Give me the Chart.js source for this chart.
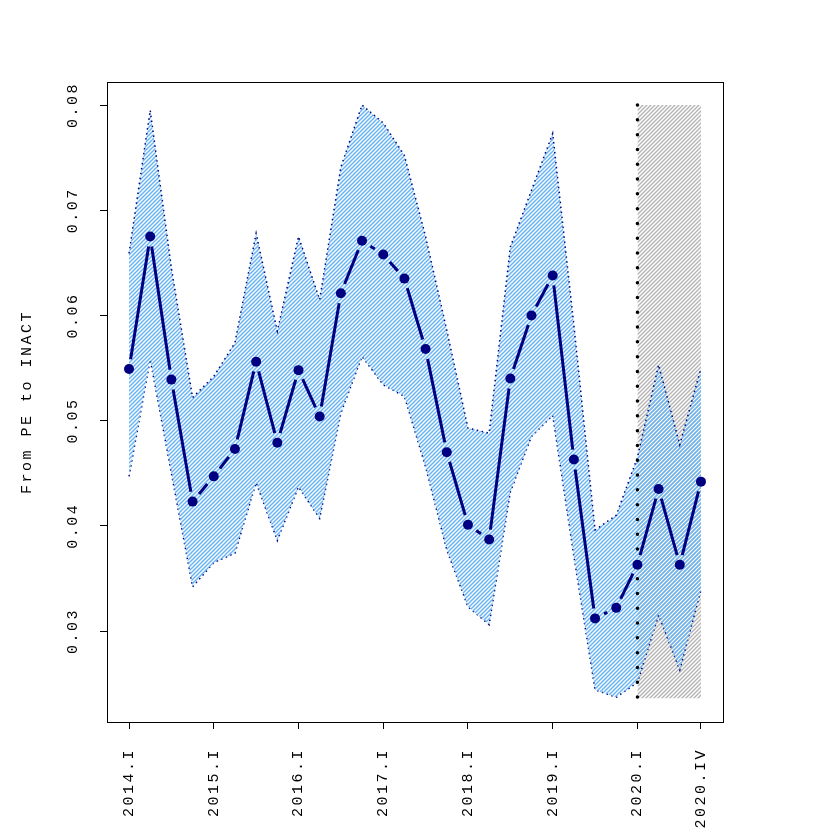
<!DOCTYPE html>
<html lang="en">
<head>
    <meta charset="UTF-8">
    <title>From PE to INACT</title>
    <script src="https://cdn.jsdelivr.net/npm/chart.js@4.4.1/dist/chart.umd.min.js"></script>
    <style>
        body { margin: 0; background: #fff; }
    </style>
</head>
<body>

<canvas id="flow-chart" width="830" height="830"></canvas>

<script>

    const years = [2014, 2015, 2016, 2017, 2018, 2019, 2020];
    const romans = ['I', 'II', 'III', 'IV'];
    const quarters = years.flatMap(y => romans.map(r => y + '.' + r));

    const estimate = [0.0549, 0.0675, 0.0539, 0.0423, 0.0447, 0.0473, 0.0556, 0.0479,
                      0.0548, 0.0504, 0.0621, 0.0671, 0.0658, 0.0635, 0.0568, 0.0470,
                      0.0401, 0.0387, 0.0540, 0.0600, 0.0638, 0.0463, 0.0312, 0.0322,
                      0.0363, 0.0435, 0.0363, 0.0442];
    const upper = [0.0659, 0.0795, 0.0645, 0.0522, 0.0542, 0.0574, 0.0678, 0.0585,
                   0.0675, 0.0615, 0.0741, 0.0800, 0.0783, 0.0752, 0.0675, 0.0586,
                   0.0493, 0.0488, 0.0665, 0.0719, 0.0773, 0.0591, 0.0396, 0.0410,
                   0.0465, 0.0553, 0.0477, 0.0550];
    const lower = [0.0447, 0.0558, 0.0450, 0.0342, 0.0365, 0.0374, 0.0441, 0.0386,
                   0.0437, 0.0407, 0.0507, 0.0561, 0.0534, 0.0523, 0.0456, 0.0377,
                   0.0323, 0.0306, 0.0432, 0.0485, 0.0505, 0.0371, 0.0244, 0.0237,
                   0.0251, 0.0315, 0.0263, 0.0339];

    const xTickLabels = ['2014.I', '2015.I', '2016.I', '2017.I', '2018.I', '2019.I', '2020.I', '2020.IV'];
    const yTicks = [0.03, 0.04, 0.05, 0.06, 0.07, 0.08];

    // forecast window shading
    const forecastFrom = '2020.I';
    const forecastTo = '2020.IV';
    const shadeTop = 0.08;
    const shadeBottom = 0.0236;

    const navy = '#000080';
    const font = '"Liberation Mono", "DejaVu Sans Mono", monospace';

    function hatch(color, size, width) {
        const c = document.createElement('canvas');
        c.width = c.height = size;
        const g = c.getContext('2d');
        g.strokeStyle = color;
        g.lineWidth = width;
        g.beginPath();
        g.moveTo(0, size); g.lineTo(size, 0);
        g.moveTo(-1, 1); g.lineTo(1, -1);
        g.moveTo(size - 1, size + 1); g.lineTo(size + 1, size - 1);
        g.stroke();
        return g.createPattern(c, 'repeat');
    }

    const toXY = arr => arr.map((v, i) => ({x: i, y: v}));
    const fromIdx = quarters.indexOf(forecastFrom);
    const toIdx = quarters.indexOf(forecastTo);

    // lines with gaps around points, like R type="b"
    const gappedLine = {
        id: 'gappedLine',
        afterDatasetDraw(chart, args) {
            if (chart.data.datasets[args.index].label !== 'Estimate') return;
            const pts = args.meta.data, ctx = chart.ctx, gap = 10;
            ctx.save();
            ctx.strokeStyle = navy;
            ctx.lineWidth = 3;
            ctx.beginPath();
            for (let i = 0; i < pts.length - 1; i++) {
                const a = pts[i], b = pts[i + 1];
                const dx = b.x - a.x, dy = b.y - a.y, d = Math.hypot(dx, dy);
                if (d <= 2 * gap) continue;
                const ux = dx / d, uy = dy / d;
                ctx.moveTo(a.x + ux * gap, a.y + uy * gap);
                ctx.lineTo(b.x - ux * gap, b.y - uy * gap);
            }
            ctx.stroke();
            ctx.restore();
        }
    };

    const rFrame = {
        id: 'rFrame',
        beforeDraw(chart) {
            chart.ctx.letterSpacing = '2.5px';
        },
        afterDraw(chart) {
            const ctx = chart.ctx, area = chart.chartArea, y = chart.scales.y;
            ctx.save();
            ctx.strokeStyle = '#000';
            ctx.lineWidth = 1;
            ctx.strokeRect(area.left + 0.5, area.top + 0.5, area.right - area.left, area.bottom - area.top);
            ctx.font = '15px ' + font;
            ctx.fillStyle = '#000';
            ctx.textAlign = 'center';
            ctx.textBaseline = 'middle';
            yTicks.forEach(v => {
                ctx.save();
                ctx.translate(area.left - 34, y.getPixelForValue(v));
                ctx.rotate(-Math.PI / 2);
                ctx.fillText(v.toFixed(2), 0, 0);
                ctx.restore();
            });
            ctx.restore();
        }
    };

    const data = {
        datasets: [
            {
                label: 'Estimate',
                data: toXY(estimate),
                showLine: false,
                pointRadius: 5,
                pointBackgroundColor: navy,
                pointBorderWidth: 0,
                order: 1
            },
            {
                label: 'Forecast start',
                data: [{x: fromIdx, y: shadeTop}, {x: fromIdx, y: shadeBottom}],
                borderColor: '#000',
                borderWidth: 3.5,
                borderDash: [0, 14.8],
                borderCapStyle: 'round',
                pointRadius: 0,
                order: 2
            },
            {
                label: 'Upper',
                data: toXY(upper),
                borderColor: navy,
                borderWidth: 1.5,
                borderDash: [1.5, 3.5],
                backgroundColor: hatch('#68B5F4', 4, 1.5),
                fill: '+1',
                pointRadius: 0,
                tension: 0,
                order: 3
            },
            {
                label: 'Lower',
                data: toXY(lower),
                borderColor: navy,
                borderWidth: 1.5,
                borderDash: [1.5, 3.5],
                pointRadius: 0,
                tension: 0,
                order: 3
            },
            {
                label: 'Forecast',
                data: [{x: fromIdx, y: shadeTop}, {x: toIdx, y: shadeTop}],
                borderWidth: 0,
                backgroundColor: hatch('#B4B4B4', 4, 1.4),
                fill: {value: shadeBottom},
                pointRadius: 0,
                order: 5
            }
        ]
    };

    new Chart('flow-chart', {
        type: 'line',
        data: data,
        plugins: [gappedLine, rFrame],
        options: {
            responsive: false,
            animation: false,
            events: [],
            layout: {padding: {top: 82, right: 107, left: 0, bottom: 0}},
            plugins: {
                legend: {display: false},
                tooltip: {enabled: false}
            },
            scales: {
                x: {
                    type: 'linear',
                    min: -1.04,
                    max: 28.04,
                    afterFit: s => { s.height = 108; },
                    afterBuildTicks: s => {
                        s.ticks = xTickLabels.map(l => ({value: quarters.indexOf(l)}));
                    },
                    border: {display: false},
                    grid: {drawOnChartArea: false, tickLength: 7, color: '#000', lineWidth: 1},
                    ticks: {
                        autoSkip: false,
                        minRotation: 90,
                        maxRotation: 90,
                        padding: 19,
                        color: '#000',
                        font: {family: font, size: 15},
                        callback: v => quarters[v]
                    }
                },
                y: {
                    min: 0.02135,
                    max: 0.08219,
                    afterFit: s => { s.width = 107; },
                    afterBuildTicks: s => {
                        s.ticks = yTicks.map(v => ({value: v}));
                    },
                    border: {display: false},
                    grid: {drawOnChartArea: false, tickLength: 7, color: '#000', lineWidth: 1},
                    ticks: {display: false},
                    title: {
                        display: true,
                        text: 'From PE to INACT',
                        color: '#000',
                        font: {family: font, size: 15},
                        padding: {top: 18, bottom: 0}
                    }
                }
            }
        }
    });

</script>

</body>
</html>
